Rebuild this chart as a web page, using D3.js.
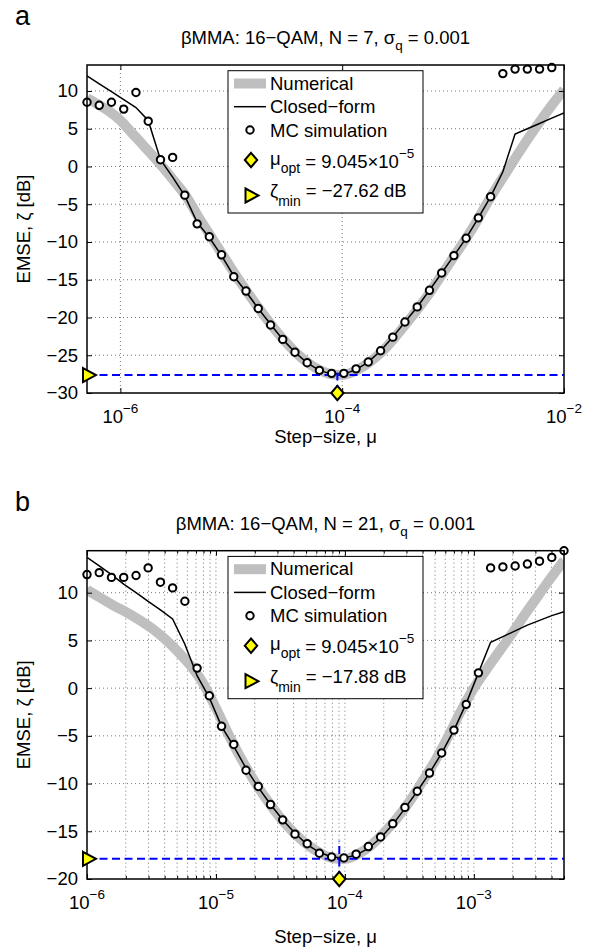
<!DOCTYPE html>
<html>
<head>
<meta charset="utf-8">
<script src="https://cdn.jsdelivr.net/npm/d3@7"></script>
<style>
body { margin: 0; background: #fff; }
svg { font-family: "Liberation Sans", Arial, Helvetica, sans-serif; }
.grid line { stroke: #666; stroke-width: 0.9; stroke-dasharray: 1,3; }
.axis path { display: none; }
.axis line { stroke: #000; stroke-width: 1; }
.axis text { font-size: 18.5px; fill: #000; font-family: "Liberation Sans", Arial, sans-serif; }
.numerical { fill: none; stroke: #bfbfbf; stroke-width: 10; }
.closed { fill: none; stroke: #000; stroke-width: 1.5; }
.mc { fill: #fff; stroke: #000; stroke-width: 2; }
.zline { fill: none; stroke: #0000ff; stroke-width: 2; stroke-dasharray: 8,4.5; }
.marker { fill: #ffff00; stroke: #000; stroke-width: 2; }
</style>
</head>
<body>
<svg width="592" height="948"></svg>
<script>
// ---- panel a : N = 7 ----
var muA = [5.00e-7, 6.45e-7, 8.31e-7, 1.072e-6, 1.382e-6, 1.782e-6, 2.30e-6, 2.96e-6, 3.81e-6, 4.92e-6,
  6.34e-6, 8.17e-6, 1.053e-5, 1.358e-5, 1.750e-5, 2.26e-5, 2.91e-5, 3.75e-5, 4.83e-5, 6.23e-5,
  8.03e-5, 1.035e-4, 1.334e-4, 1.719e-4, 2.22e-4, 2.86e-4, 3.68e-4, 4.75e-4, 6.12e-4, 7.89e-4,
  1.017e-3, 1.311e-3, 1.690e-3, 2.18e-3, 2.81e-3, 3.62e-3, 4.67e-3, 6.02e-3, 7.76e-3, 1.0e-2];
var mcA = [8.5, 8.1, 8.5, 7.6, 9.8, 6.0, 0.9, 1.2, -3.8, -7.6,
  -9.3, -11.7, -14.6, -16.5, -18.8, -21.0, -22.9, -24.6, -26.0, -27.0,
  -27.4, -27.4, -26.8, -25.9, -24.4, -22.6, -20.6, -18.6, -16.4, -14.1,
  -11.8, -9.5, -6.8, -4.0, 12.3, 12.9, 12.9, 12.9, 13.1];
var cfA = [12.0, 10.95, 9.9, 8.85, 7.8, 6.1, 0.9, -1.4, -3.9, -7.4,
  -9.4, -11.8, -14.5, -16.6, -18.8, -20.9, -22.9, -24.6, -26.0, -27.0,
  -27.5, -27.5, -26.9, -25.9, -24.4, -22.6, -20.6, -18.6, -16.4, -14.1,
  -11.8, -9.5, -6.8, -4.0, -0.7, 4.3, 5.0, 5.7, 6.4, 7.1];
var numExpA = [-6.3, -6.2, -6.1, -6.0, -5.9, -5.8, -5.7, -5.6, -5.5, -5.4, -5.3, -5.2, -5.1, -5.0,
  -4.9, -4.8, -4.7, -4.6, -4.5, -4.4, -4.3, -4.2, -4.1, -4.0, -3.9, -3.8, -3.7, -3.6, -3.5,
  -3.4, -3.3, -3.2, -3.1, -3.0, -2.9, -2.8, -2.7, -2.6, -2.5, -2.4, -2.3, -2.2, -2.1, -2.0];
var numA = [9.0, 8.2, 7.3, 6.1, 4.5, 2.9, 1.3, -0.4, -2.2, -4.1, -6.6, -8.9, -11.2, -13.5,
  -15.7, -17.8, -19.8, -21.7, -23.4, -24.9, -26.1, -27.0, -27.5, -27.6, -27.2, -26.4, -25.3, -23.9, -22.2,
  -20.4, -18.5, -16.5, -14.3, -12.1, -9.9, -7.6, -5.0, -2.6, -0.3, 2.0, 4.2, 6.3, 8.3, 10.2];

// ---- panel b : N = 21 ----
var muB = [1.000e-6, 1.244e-6, 1.548e-6, 1.926e-6, 2.40e-6, 2.98e-6, 3.71e-6, 4.61e-6, 5.74e-6, 7.14e-6,
  8.88e-6, 1.105e-5, 1.375e-5, 1.711e-5, 2.13e-5, 2.65e-5, 3.29e-5, 4.10e-5, 5.10e-5, 6.34e-5,
  7.89e-5, 9.82e-5, 1.222e-4, 1.520e-4, 1.891e-4, 2.35e-4, 2.92e-4, 3.64e-4, 4.53e-4, 5.63e-4,
  7.01e-4, 8.72e-4, 1.085e-3, 1.349e-3, 1.679e-3, 2.09e-3, 2.60e-3, 3.23e-3, 4.02e-3, 5.00e-3];
var mcB = [11.9, 12.1, 11.6, 11.6, 11.8, 12.6, 11.1, 10.5, 9.1, 2.1,
  -0.8, -4.0, -5.9, -8.6, -10.3, -12.2, -13.8, -15.3, -16.3, -17.3,
  -17.7, -17.8, -17.4, -16.6, -15.6, -14.2, -12.5, -10.8, -8.9, -6.8,
  -4.4, -1.7, 1.6, 12.6, 12.7, 12.8, 13.0, 13.3, 13.7, 14.4];
var cfB = [13.7, 12.8, 11.9, 10.9, 10.0, 9.1, 8.2, 7.25, 4.6, 1.3,
  -1.0, -4.0, -6.1, -8.4, -10.4, -12.2, -13.8, -15.2, -16.4, -17.2,
  -17.7, -17.8, -17.5, -16.8, -15.7, -14.3, -12.6, -10.8, -8.9, -6.8,
  -4.4, -1.6, 1.6, 4.8, 5.4, 6.0, 6.6, 7.1, 7.6, 8.0];
var numExpB = [-6.0, -5.9, -5.8, -5.7, -5.6, -5.5, -5.4, -5.3, -5.2, -5.1, -5.0,
  -4.9, -4.8, -4.7, -4.6, -4.5, -4.4, -4.3, -4.2, -4.1, -4.0, -3.9, -3.8, -3.7, -3.6, -3.5,
  -3.4, -3.3, -3.2, -3.1, -3.0, -2.9, -2.8, -2.7, -2.6, -2.5, -2.4, -2.3];
var numB = [10.3, 9.5, 8.7, 8.0, 7.2, 6.3, 5.2, 3.9, 2.4, 0.5, -2.1,
  -4.9, -7.5, -9.8, -11.8, -13.6, -15.1, -16.3, -17.2, -17.8, -17.9, -17.4, -16.5, -15.2, -13.7, -11.9,
  -9.8, -7.6, -5.1, -2.4, 0.0, 2.0, 3.9, 5.8, 7.8, 9.7, 11.6, 13.4];

var yTicksA = [-30, -25, -20, -15, -10, -5, 0, 5, 10];
var yTicksB = [-20, -15, -10, -5, 0, 5, 10];
var xTicksA = [1e-6, 1e-4, 1e-2];
var xTicksB = [1e-6, 1e-5, 1e-4, 1e-3];

var muOpt = 9.045e-5;

var panels = [
  {id: "a", N: 7, top: 65, bottom: 393, xdom: [5e-7, 1e-2], ydom: [-30, 13.44],
   mu: muA, mc: mcA, cf: cfA, numExp: numExpA, num: numA,
   yTicks: yTicksA, xTicks: xTicksA, minor: false, zmin: -27.62, vTop: -26.9, xlabY: 443},
  {id: "b", N: 21, top: 550.7, bottom: 879, xdom: [1e-6, 5e-3], ydom: [-20, 14.4],
   mu: muB, mc: mcB, cf: cfB, numExp: numExpB, num: numB,
   yTicks: yTicksB, xTicks: xTicksB, minor: true, zmin: -17.88, vTop: -16.0, xlabY: 943}
];

var L = 87, R = 564;
var FS = 18.5;
var svg = d3.select("svg");

panels.forEach(function (p, pi) {
  var x = d3.scaleLog().domain(p.xdom).range([L, R]);
  var y = d3.scaleLinear().domain(p.ydom).range([p.bottom, p.top]);
  var g = svg.append("g");

  g.append("clipPath").attr("id", "clip" + pi)
    .append("rect").attr("x", L).attr("y", p.top).attr("width", R - L).attr("height", p.bottom - p.top);

  // grid
  var xGrid = p.minor ? x.ticks() : p.xTicks;
  var grid = g.append("g").attr("class", "grid");
  grid.selectAll(".gx").data(xGrid.filter(function (d) { return x(d) > L + 1 && x(d) < R - 1; }))
    .enter().append("line")
    .attr("x1", function (d) { return x(d); }).attr("x2", function (d) { return x(d); })
    .attr("y1", p.top).attr("y2", p.bottom);
  grid.selectAll(".gy").data(p.yTicks.filter(function (d) { return y(d) < p.bottom - 1; }))
    .enter().append("line")
    .attr("x1", L).attr("x2", R)
    .attr("y1", function (d) { return y(d); }).attr("y2", function (d) { return y(d); });

  var plot = g.append("g").attr("clip-path", "url(#clip" + pi + ")");

  var numData = p.numExp.map(function (e, i) { return [Math.pow(10, e), p.num[i]]; });
  plot.append("path").attr("class", "numerical")
    .attr("d", d3.line().curve(d3.curveMonotoneX)
      .x(function (d) { return x(d[0]); }).y(function (d) { return y(d[1]); })(numData));

  var cfData = p.mu.map(function (m, i) { return [m, p.cf[i]]; });
  plot.append("path").attr("class", "closed")
    .attr("d", d3.line().x(function (d) { return x(d[0]); }).y(function (d) { return y(d[1]); })(cfData));

  // zeta_min and mu_opt guide lines
  plot.append("line").attr("class", "zline")
    .attr("x1", L).attr("x2", R).attr("y1", y(p.zmin)).attr("y2", y(p.zmin));
  plot.append("line").attr("class", "zline")
    .attr("x1", x(muOpt)).attr("x2", x(muOpt)).attr("y1", p.bottom).attr("y2", y(p.vTop));

  // MC points
  g.selectAll(".mc").data(p.mc).enter().append("circle")
    .attr("class", "mc")
    .attr("cx", function (d, i) { return x(p.mu[i]); })
    .attr("cy", function (d) { return y(d); })
    .attr("r", 3.7);

  // axes
  g.append("g").attr("class", "axis").attr("transform", "translate(" + L + ",0)")
    .call(d3.axisLeft(y).tickValues(p.yTicks).tickSizeInner(-5).tickSizeOuter(0)
      .tickPadding(9).tickFormat(d3.format("d")));
  g.append("g").attr("class", "axis").attr("transform", "translate(" + R + ",0)")
    .call(d3.axisRight(y).tickValues(p.yTicks).tickSizeInner(-5).tickSizeOuter(0).tickFormat(""));
  g.append("g").attr("class", "axis").attr("transform", "translate(0," + p.bottom + ")")
    .call(d3.axisBottom(x).tickValues(p.xTicks).tickSizeInner(-5).tickSizeOuter(0).tickFormat(""));
  g.append("g").attr("class", "axis").attr("transform", "translate(0," + p.top + ")")
    .call(d3.axisTop(x).tickValues(p.xTicks).tickSizeInner(-5).tickSizeOuter(0).tickFormat(""));
  if (p.minor) {
    var minor = x.ticks().filter(function (d) { return Math.abs(Math.log10(d) - Math.round(Math.log10(d))) > 1e-6; });
    g.append("g").attr("class", "axis").attr("transform", "translate(0," + p.bottom + ")")
      .call(d3.axisBottom(x).tickValues(minor).tickSizeInner(-3).tickSizeOuter(0).tickFormat(""));
    g.append("g").attr("class", "axis").attr("transform", "translate(0," + p.top + ")")
      .call(d3.axisTop(x).tickValues(minor).tickSizeInner(-3).tickSizeOuter(0).tickFormat(""));
  }

  // x tick labels 10^n
  var xl = g.selectAll(".xl").data(p.xTicks).enter().append("text")
    .attr("x", function (d) { return x(d); }).attr("y", p.bottom + 30)
    .attr("text-anchor", "middle").attr("font-size", FS);
  xl.append("tspan").text("10");
  xl.append("tspan").attr("dy", -10).attr("font-size", 13.5)
    .text(function (d) { return "\u2212" + Math.round(-Math.log10(d)); });

  // box
  g.append("rect").attr("x", L).attr("y", p.top).attr("width", R - L).attr("height", p.bottom - p.top)
    .attr("fill", "none").attr("stroke", "#000").attr("stroke-width", 1.5);

  // markers
  g.append("path").attr("class", "marker")
    .attr("d", "M0,-7.2L6.2,0L0,7.2L-6.2,0Z")
    .attr("transform", "translate(" + x(muOpt) + "," + p.bottom + ")");
  g.append("path").attr("class", "marker")
    .attr("d", "M-4,-7L9,0L-4,7Z")
    .attr("transform", "translate(" + L + "," + y(p.zmin) + ")");

  // titles and labels
  g.append("text").attr("x", 15).attr("y", p.top - 40).attr("font-size", 27).text(p.id);
  var t = g.append("text").attr("x", (L + R) / 2).attr("y", p.top - 21)
    .attr("text-anchor", "middle").attr("font-size", FS);
  t.append("tspan").text("\u03B2MMA: 16\u2212QAM, N = " + p.N + ", \u03C3");
  t.append("tspan").attr("dy", 6).attr("font-size", 13.5).text("q");
  t.append("tspan").attr("dy", -6).text(" = 0.001");

  g.append("text").attr("transform", "translate(30," + (p.top + p.bottom) / 2 + ") rotate(-90)")
    .attr("text-anchor", "middle").attr("font-size", FS).text("EMSE, \u03B6 [dB]");
  g.append("text").attr("x", (L + R) / 2).attr("y", p.xlabY)
    .attr("text-anchor", "middle").attr("font-size", FS).text("Step\u2212size, \u03BC");

  // legend
  var lt = p.top + 5.7;
  var lg = g.append("g");
  lg.append("rect").attr("x", 228).attr("y", lt).attr("width", 195).attr("height", 142.3)
    .attr("fill", "#fff").attr("stroke", "#000").attr("stroke-width", 1);
  lg.append("line").attr("class", "numerical").attr("x1", 234).attr("x2", 266)
    .attr("y1", lt + 12.8).attr("y2", lt + 12.8);
  lg.append("line").attr("class", "closed").attr("x1", 234).attr("x2", 266)
    .attr("y1", lt + 36).attr("y2", lt + 36);
  lg.append("circle").attr("class", "mc").attr("cx", 250).attr("cy", lt + 59.3).attr("r", 3.7);
  lg.append("path").attr("class", "marker").attr("d", "M0,-7.2L6.2,0L0,7.2L-6.2,0Z")
    .attr("transform", "translate(251," + (lt + 89.3) + ")");
  lg.append("path").attr("class", "marker").attr("d", "M-5.5,-7L7.5,0L-5.5,7Z")
    .attr("transform", "translate(251," + (lt + 124.8) + ")");

  var tx = 270;
  lg.append("text").attr("x", tx).attr("y", lt + 19).attr("font-size", FS).text("Numerical");
  lg.append("text").attr("x", tx).attr("y", lt + 42.5).attr("font-size", FS).text("Closed\u2212form");
  lg.append("text").attr("x", tx).attr("y", lt + 66).attr("font-size", FS).text("MC simulation");
  var t4 = lg.append("text").attr("x", tx).attr("y", lt + 94).attr("font-size", FS);
  t4.append("tspan").text("\u03BC");
  t4.append("tspan").attr("dy", 8).attr("font-size", 14).text("opt");
  t4.append("tspan").attr("dy", -5).text(" = 9.045\u00D710");
  t4.append("tspan").attr("dy", -10).attr("font-size", 13.5).text("\u22125");
  var t5 = lg.append("text").attr("x", tx).attr("y", lt + 126.5).attr("font-size", FS);
  t5.append("tspan").text("\u03B6");
  t5.append("tspan").attr("dy", 9).attr("font-size", 14).text("min");
  t5.append("tspan").attr("dy", -9).text(" = \u2212" + Math.abs(p.zmin).toFixed(2) + " dB");
});
</script>
</body>
</html>
